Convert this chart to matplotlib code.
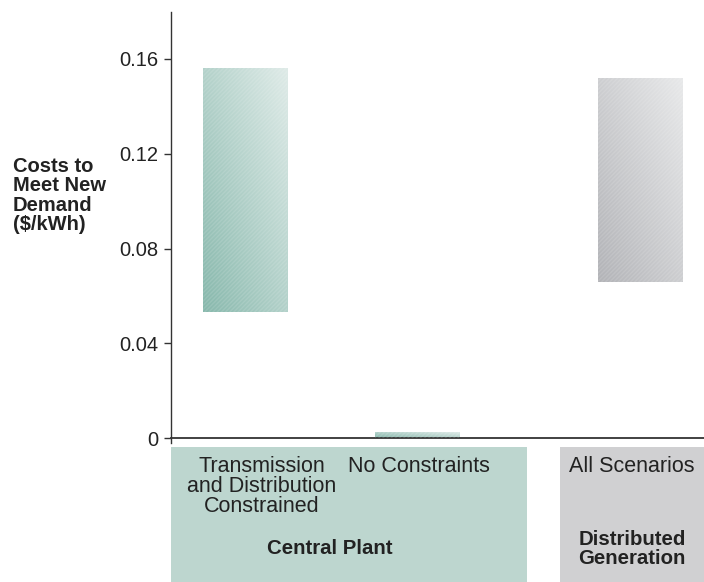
import numpy as np
import matplotlib
matplotlib.use("Agg")
import matplotlib.pyplot as plt
from matplotlib.patches import Rectangle
from matplotlib.colors import LinearSegmentedColormap

plt.rcParams['font.family'] = ['Liberation Sans', 'DejaVu Sans']

# Cost ranges ($/kWh) for each scenario
scenarios = ["Transmission\nand Distribution\nConstrained", "No Constraints", "All Scenarios"]
cost_low = [0.053, 0.0, 0.066]
cost_high = [0.156, 0.0025, 0.152]
groups = ["Central Plant", "Distributed\nGeneration"]
yticks = [0, 0.04, 0.08, 0.12, 0.16]
ytick_labels = ["0", "0.04", "0.08", "0.12", "0.16"]

positions = [0.0, 1.0, 2.3]
bar_width = 0.49
teal = LinearSegmentedColormap.from_list("teal", ["#87b8ac", "#dfebe8"])
grey = LinearSegmentedColormap.from_list("grey", ["#b2b3b7", "#e8e9ea"])
bar_cmaps = [teal, teal, grey]

W, H = 704, 582
fig = plt.figure(figsize=(W / 100, H / 100), dpi=100)
y_bottom, y_top = -0.002, 0.1799
px_per_unit = (438 - 59) / 0.16
ax_bottom_px = 438 + (0 - y_bottom) * px_per_unit
ax_top_px = 438 - y_top * px_per_unit
ax = fig.add_axes([171 / W, (H - ax_bottom_px) / H, 533 / W, (ax_bottom_px - ax_top_px) / H])
ax.set_xlim(-0.43, 2.669)
ax.set_ylim(y_bottom, y_top)

# gradient image reused for every bar: dark lower-left to light upper-right
n = 200
gx, gy = np.meshgrid(np.linspace(0, 1, n), np.linspace(0, 1, n))
grad = (gx + gy) / 2

for pos, lo, hi, cmap in zip(positions, cost_low, cost_high, bar_cmaps):
    x0 = pos - bar_width / 2
    x1 = pos + bar_width / 2
    im = ax.imshow(grad, cmap=cmap, origin="lower", extent=(x0, x1, lo, hi),
                   aspect="auto", interpolation="bilinear", zorder=2)
    rect = Rectangle((x0, lo), bar_width, hi - lo, facecolor="none",
                     edgecolor="none", transform=ax.transData)
    ax.add_patch(rect)
    im.set_clip_path(rect)
    # faint diagonal weave texture
    tex = Rectangle((x0, lo), bar_width, hi - lo, facecolor="none",
                    edgecolor=(1, 1, 1, 0.12), hatch="////////", linewidth=0, zorder=3)
    ax.add_patch(tex)

ax.set_xticks([])
ax.set_yticks(yticks)
ax.set_yticklabels(ytick_labels, fontsize=14.5, color="#222222")
ax.tick_params(axis="y", direction="out", length=5, width=1, color="#333333", pad=4)
for side in ("top", "right"):
    ax.spines[side].set_visible(False)
ax.spines["left"].set_color("#333333")
ax.spines["bottom"].set_color("#333333")
ax.spines["left"].set_linewidth(1)
ax.spines["bottom"].set_linewidth(1.3)
ax.spines["bottom"].set_position(("data", 0))

fig.text(13 / W, 1 - 157 / H, "Costs to\nMeet New\nDemand\n($/kWh)", ha="left", va="top",
         fontsize=14.5, fontweight="bold", color="#222222", linespacing=1.02)

# group panels under the axis
fig.add_artist(Rectangle((171 / W, 0), 356 / W, 135 / H, transform=fig.transFigure,
                         facecolor="#bdd6cf", edgecolor="none", zorder=0))
fig.add_artist(Rectangle((560 / W, 0), 144 / W, 135 / H, transform=fig.transFigure,
                         facecolor="#d0d0d2", edgecolor="none", zorder=0))

label_x = [262, 419, 632]
for sx, label in zip(label_x, scenarios):
    fig.text(sx / W, 1 - 456 / H, label, ha="center", va="top", fontsize=15.5,
             color="#222222", linespacing=0.95)

fig.text(330 / W, 1 - 549 / H, groups[0], ha="center", va="center", fontsize=14.7,
         fontweight="bold", color="#222222")
fig.text(632 / W, 1 - 549 / H, groups[1], ha="center", va="center", fontsize=14.7,
         fontweight="bold", color="#222222", linespacing=1.02)

fig.savefig("out.png", dpi=100, facecolor="white")
